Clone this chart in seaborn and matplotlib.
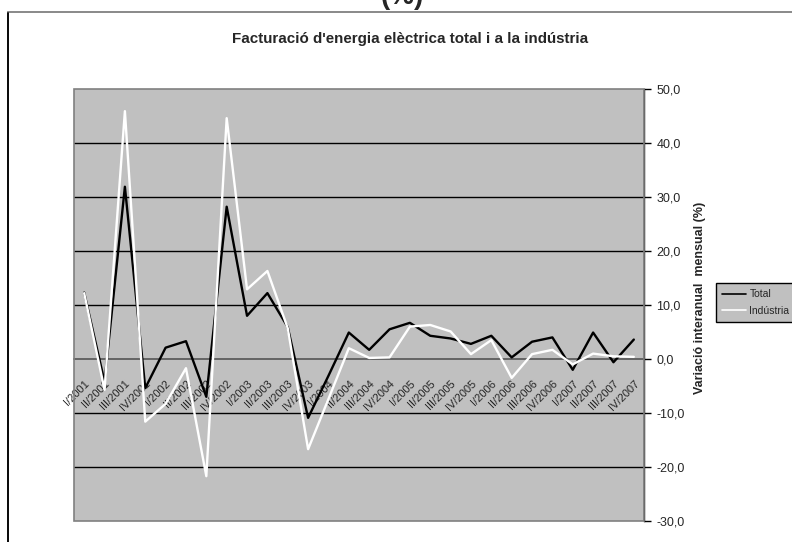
"""
Facturació d'energia elèctrica total i a la indústria
Variació interanual trimestral, 2001-2007 (Excel-style grey chart).
"""
import matplotlib
matplotlib.use("Agg")
import matplotlib.pyplot as plt
from matplotlib.patches import Rectangle
from matplotlib.lines import Line2D
import numpy as np
import pandas as pd
import seaborn as sns

# quarters I/2001 .. IV/2007
years = ["2001", "2002", "2003", "2004", "2005", "2006", "2007"]
quarters = ["I", "II", "III", "IV"]
tick_labels = [f"{q}/{y}" for y in years for q in quarters]

total = [12.3, -4.2, 31.9, -5.4, 2.1, 3.3, -7.0, 28.2, 8.0, 12.2, 5.9, -10.9,
         -3.1, 4.9, 1.7, 5.5, 6.7, 4.3, 3.8, 2.8, 4.3, 0.3, 3.2, 4.0,
         -2.0, 4.9, -0.6, 3.6]
industria = [12.2, -5.7, 45.9, -11.6, -8.3, -1.7, -21.7, 44.6, 12.9, 16.3, 5.7, -16.7,
             -7.4, 2.0, 0.2, 0.3, 6.0, 6.3, 5.1, 0.9, 3.5, -3.5, 0.9, 1.7,
             -1.0, 1.0, 0.5, 0.4]

y_ticks = list(range(-30, 51, 10))

sns.set_style("white")
plt.rcParams["font.family"] = ["Liberation Sans", "DejaVu Sans"]

df = pd.DataFrame({
    "idx": list(range(len(tick_labels))) * 2,
    "valor": total + industria,
    "serie": ["Total"] * len(total) + ["Indústria"] * len(industria),
})

fig = plt.figure(figsize=(7.92, 5.42), dpi=100)
ax = fig.add_axes([74 / 792, 1 - 521 / 542, 570 / 792, 432 / 542])
ax.set_facecolor("#C0C0C0")

for yv in y_ticks:
    if yv not in (-30, 0, 50):
        ax.axhline(yv, color="black", lw=1.0, zorder=1)

sns.lineplot(data=df, x="idx", y="valor", hue="serie", sort=False,
             palette={"Total": "black", "Indústria": "white"},
             linewidth=1.7, legend=False, ax=ax, zorder=3)

n = len(tick_labels)
ax.set_xlim(-0.5, n - 0.5)
ax.set_ylim(-30, 50)

# plot-area frame
ax.add_patch(Rectangle((0, 0), 1, 1, transform=ax.transAxes, fill=False,
                       edgecolor="#808080", lw=1.2, clip_on=False, zorder=4))
ax.spines["left"].set_visible(False)
ax.spines["top"].set_visible(False)
ax.spines["right"].set_color("black")
ax.spines["right"].set_linewidth(1.0)
ax.spines["bottom"].set_position(("data", 0))
ax.spines["bottom"].set_color("#555555")
ax.spines["bottom"].set_linewidth(1.2)
ax.spines["bottom"].set_zorder(2)

# y axis on the right
ax.yaxis.tick_right()
ax.yaxis.set_label_position("right")
ax.set_yticks(y_ticks)
ax.set_yticklabels([f"{v:.1f}".replace(".", ",") for v in y_ticks], fontsize=9)
ax.tick_params(axis="y", direction="out", length=5, width=1, color="black", pad=4)
ax.set_ylabel("Variació interanual  mensual (%)", fontsize=9, fontweight="bold")
ax.yaxis.set_label_coords(1.0877, 0.516)

# x axis: boundary ticks, labels at centres
ax.set_xticks(np.arange(-0.5, n, 1.0))
ax.set_xticklabels([])
ax.tick_params(axis="x", which="major", direction="out", length=3, width=1,
               color="#333333")
ax.set_xticks(np.arange(n), minor=True)
ax.set_xticklabels(tick_labels, minor=True, rotation=45, ha="right",
                   va="top", rotation_mode="anchor", fontsize=8)
ax.tick_params(axis="x", which="minor", length=0, pad=14)
ax.set_xlabel("")

# chart title, centred on the whole chart area
fig.text(410 / 792, 1 - 43 / 542,
         "Facturació d'energia elèctrica total i a la indústria",
         ha="center", va="baseline", fontsize=10.9, fontweight="bold")

# outer chart frame and the clipped heading above it
fig.patches.append(Rectangle((8 / 792, -0.2), 1.2, 1 - 12.5 / 542 + 0.2,
                             transform=fig.transFigure, fill=False,
                             edgecolor="#808080", lw=1.3))
fig.add_artist(Line2D([8 / 792, 8 / 792], [0, 1 - 12.5 / 542],
                      transform=fig.transFigure, color="black", lw=1.3))
fig.text(402 / 792, 1 - 10 / 542, "(%)", ha="center", va="bottom",
         fontsize=20, fontweight="bold")

handles = [Line2D([], [], color="black", lw=1.2),
           Line2D([], [], color="white", lw=1.2)]
leg = fig.legend(handles, ["Total", "Indústria"], loc="upper left",
                 bbox_to_anchor=(716 / 792, 1 - 283 / 542), fontsize=7.5,
                 frameon=True, fancybox=False, handlelength=2.3,
                 borderpad=0.6, labelspacing=0.6, handletextpad=0.3,
                 borderaxespad=0)
leg.get_frame().set_facecolor("#C0C0C0")
leg.get_frame().set_edgecolor("black")
leg.get_frame().set_linewidth(1.0)
leg.get_frame().set_alpha(1)

fig.savefig("out.png", dpi=100)
